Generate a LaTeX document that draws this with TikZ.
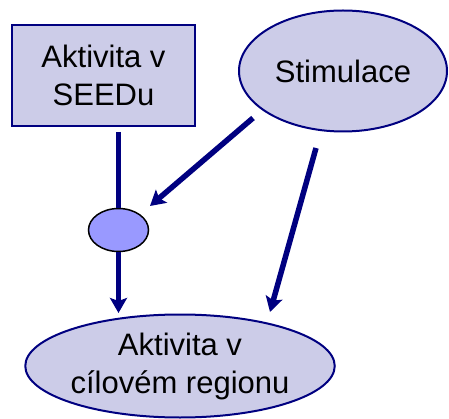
\documentclass[tikz,border=0pt]{standalone}
\usepackage{fontspec}
\setmainfont{Liberation Sans}
\usetikzlibrary{shapes.geometric,arrows.meta}
\definecolor{navy}{RGB}{0,0,128}
\definecolor{lila}{RGB}{204,204,232}
\definecolor{modra}{RGB}{153,153,255}

\begin{document}
\begin{tikzpicture}[x=1pt,y=-1pt,
		blok/.style={draw=navy,line width=2pt,fill=lila,align=center,inner sep=0pt,font=\fontsize{31}{38}\selectfont},
		sipka/.style={navy,line width=5.5pt,-{Stealth[length=15pt,width=17pt,inset=3pt]}}]
	\useasboundingbox (0,0) rectangle (449,419);
	\node[blok,minimum width=183pt,minimum height=101pt] (seed) at (103.5,75.5) {Aktivita v\\SEEDu};
	\node[blok,ellipse,minimum width=208pt,minimum height=121pt] (stim) at (343,71) {Stimulace};
	\node[blok,ellipse,minimum width=303pt,minimum height=103pt] (cil) at (180,366) {Aktivita v\\cílovém regionu};
	\node[ellipse,draw=black,line width=1.5pt,fill=modra,minimum width=60pt,minimum height=43pt,inner sep=0pt] (mix) at (118.5,230) {};
	% volne konce sipek
	\coordinate (s1) at (118.5,132);
	\coordinate (s2) at (253,118);
	\coordinate (s3) at (150,206);
	\coordinate (s4) at (316,148);
	\coordinate (s5) at (270,312);
	\draw[navy,line width=5.5pt] (s1) -- (mix.north);
	\draw[sipka] (mix.south) -- (mix.south |- 0,313);
	\draw[sipka] (s2) -- (s3);
	\draw[sipka] (s4) -- (s5);
\end{tikzpicture}
\end{document}
